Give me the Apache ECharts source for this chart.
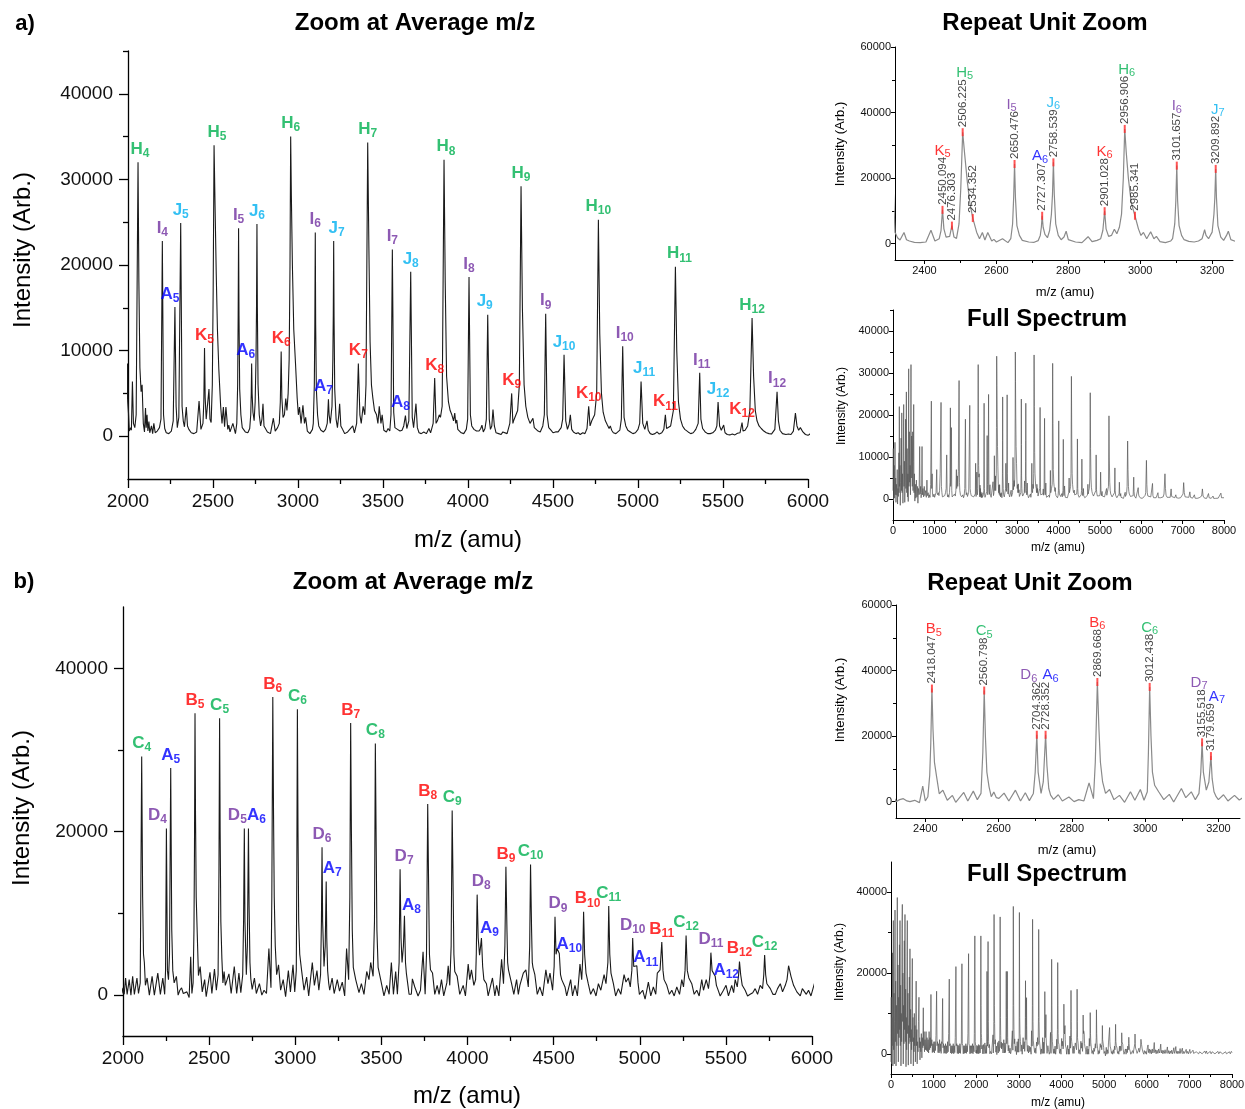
<!DOCTYPE html>
<html>
<head>
<meta charset="utf-8">
<script src="https://cdn.jsdelivr.net/npm/echarts@6/dist/echarts.min.js"></script>
<style>
  html, body { margin: 0; padding: 0; background: #fff; }
  #chart { width: 1245px; height: 1109px; }
</style>
</head>
<body>
<div id="chart"></div>
<script>
// ---------------- Sample a ----------------
// Spectrum trace vertices [m/z, intensity] between the labelled peak apexes
const spectrumA_low = [
  [0, 2000], [8, 12000], [14, -500], [22, 3000], [30, 8000], [38, 200], [48, 13500], [56, 1000], [64, 5000], [72, -800],
  [82, 3500], [92, 900], [102, 7000], [110, -1200], [120, 2500], [130, 600], [142, 11000], [148, 1500], [153, 22000], [160, 3000],
  [168, 8000], [176, -1500], [186, 4000], [196, 14500], [204, 2000], [212, 20500], [220, 1500], [230, 6000], [240, -1000], [250, 10000],
  [258, 22500], [266, 3000], [276, 9000], [284, -800], [294, 4000], [304, 19000], [312, 2500], [323, 25500], [332, 1500], [342, 12000],
  [350, 500], [360, 6000], [368, -600], [379, 31000], [386, 3000], [396, 16000], [404, 4000], [414, 8000], [422, 1000], [435, 32000],
  [442, 5000], [450, 15000], [458, 12000], [466, 3000], [476, 16000], [484, 2000], [492, 9000], [500, 22500], [508, 1500], [518, 6000],
  [528, -500], [540, 3500], [552, 200], [565, 4500], [578, 500], [590, 3000], [602, -1000], [615, 2500], [630, 1000], [645, 12500],
  [655, 1200], [668, 3000], [680, 300], [690, 1500], [702, 12500], [712, 1000], [725, 2500], [740, 500], [755, 3000], [770, 800],
  [790, 2000], [805, 400], [820, 4500], [832, 800], [850, 1500], [865, 300], [880, 1000], [895, 400], [910, 3500], [927, 23300],
  [936, 2500], [946, 6000], [955, 1000], [970, 500], [990, 1200], [1005, 400], [1020, 700], [1040, 1500], [1057, 7000], [1066, 1500],
  [1080, 1000], [1095, 1500], [1110, 800], [1125, 2000], [1140, 6000], [1161, 23000], [1170, 3000], [1182, 1500], [1195, 500], [1210, 800],
  [1230, 400], [1250, 800], [1270, 1500], [1285, 2500], [1298, 10500], [1308, 1500], [1320, 500], [1335, 1000], [1350, 400], [1365, 1500],
  [1378, 4000], [1387, 21700], [1395, 3000], [1400, 5000], [1411, 17000], [1420, 2000], [1430, 500], [1445, 400], [1460, 900], [1475, 300],
  [1490, 1200], [1505, 700], [1520, 2000], [1532, 7000], [1540, 2500], [1555, 5500], [1565, 3000], [1580, 6500], [1597, 28200], [1606, 4000],
  [1615, 2000], [1630, 1000], [1645, 800], [1660, 500], [1675, 400], [1690, 1000], [1705, 300], [1720, 800], [1735, 2500], [1750, 19000],
  [1760, 2500], [1770, 1000], [1785, 1500], [1800, 600], [1815, 1000], [1830, 1600], [1842, 1500], [1855, 22300], [1864, 2500], [1875, 1500],
  [1890, 800], [1905, 500], [1920, 700], [1935, 600], [1950, 500], [1965, 900], [1980, 600], [1990, 1200], [1997, 8500]
];
const spectrumA_mid = [
  [2000, 4000], [2008, 600], [2016, 1000], [2020, 700], [2026, 6400], [2032, 1500], [2040, 1000], [2048, 2500],
  [2064, 18000], [2070, 8000], [2077, 5200], [2083, 6000], [2090, 1500], [2097, 500], [2103, 3300], [2107, 1000], [2112, 2500], [2117, 600],
  [2123, 1700], [2128, 400], [2138, 1200], [2145, 300], [2152, 1500], [2160, 400], [2172, 600], [2185, 1000], [2194, 2000],
  [2209, 2500], [2216, 900], [2225, 400], [2240, 300], [2255, 600], [2266, 1800],
  [2283, 3500], [2290, 1000], [2299, 2200],
  [2318, 3500], [2325, 1800], [2332, 1100], [2343, 3400], [2350, 1200], [2358, 800], [2372, 400], [2388, 300], [2404, 500], [2418, 4100],
  [2429, 800], [2441, 1500], [2446, 4000], [2454, 4500], [2460, 2000], [2470, 2200], [2482, 2000], [2489, 1600],
  [2496, 6000], [2501, 17000], [2512, 27000], [2519, 19000], [2526, 12500],
  [2545, 3500], [2553, 1500], [2561, 3400], [2568, 1100], [2576, 3400], [2587, 800], [2593, 1300], [2600, 500], [2617, 1500], [2632, 300],
  [2640, 1500], [2645, 6000], [2648, 14000], [2653, 14000], [2657, 5500], [2664, 2500], [2672, 1000], [2690, 500], [2705, 400], [2716, 900],
  [2722, 2500], [2725, 5000], [2730, 5000], [2735, 2800], [2742, 1800], [2748, 4000], [2753, 9000], [2756, 15000],
  [2761, 15000], [2765, 6000], [2772, 2500], [2780, 1200], [2788, 2000], [2794, 3800], [2800, 1200], [2820, 500], [2838, 300], [2855, 2100],
  [2866, 600], [2880, 1000], [2890, 1500], [2896, 4000], [2905, 4500], [2912, 2200], [2920, 2500], [2928, 4400], [2935, 3000], [2942, 5000],
  [2948, 9000], [2953, 20000], [2961, 28000], [2967, 20000], [2975, 12500],
  [2995, 4500], [3002, 2500], [3009, 3400], [3018, 1500], [3029, 3600], [3038, 1500], [3045, 2200], [3055, 600], [3070, 300], [3085, 800],
  [3090, 1500], [3096, 6000], [3099, 13000], [3104, 13000], [3108, 5500], [3115, 2500], [3122, 1200], [3135, 700], [3150, 500], [3162, 800],
  [3172, 1500], [3176, 3000], [3183, 2500], [3190, 1500], [3200, 3500], [3205, 9000], [3207.5, 14000],
  [3212, 14000], [3216, 5500], [3224, 2000], [3232, 1000], [3240, 2500], [3245, 3800], [3252, 1200], [3262, 800], [3275, 300], [3292, 500],
  [3302, 300], [3322, 1200], [3332, 400], [3345, 1500],
  [3364, 2500], [3372, 1500], [3383, 3500], [3393, 2500], [3400, 6000],
  [3417, 22000], [3424, 11000], [3432, 6000], [3440, 4500], [3450, 3000], [3462, 2500], [3470, 1500], [3478, 3500], [3488, 1500], [3495, 2500],
  [3505, 700], [3520, 500], [3530, 900], [3540, 600], [3547, 2500],
  [3563, 2800], [3570, 1000], [3585, 800], [3600, 600], [3612, 700], [3622, 1200],
  [3640, 900], [3652, 1800],
  [3672, 2200], [3680, 1000], [3694, 3800], [3702, 1000], [3712, 400], [3725, 300], [3740, 500], [3755, 300], [3770, 900], [3780, 400], [3795, 1500],
  [3812, 1500], [3820, 1800], [3831, 2500], [3838, 2200], [3848, 3500],
  [3866, 18000], [3874, 7000], [3885, 4000], [3895, 3000], [3905, 2500], [3915, 1800], [3922, 2700], [3928, 1500], [3934, 1900], [3940, 800],
  [3950, 1000], [3960, 400], [3975, 300], [3990, 800], [3998, 2000],
  [4014, 2500], [4022, 1200], [4035, 800], [4050, 600], [4065, 600], [4075, 900], [4082, 1300], [4090, 500], [4100, 900], [4108, 2000],
  [4125, 2000], [4132, 800], [4140, 1200], [4147, 3100], [4155, 1200], [4165, 400], [4180, 300], [4195, 200], [4205, 500], [4215, 300],
  [4230, 300], [4246, 1500],
  [4264, 1500], [4270, 1900], [4280, 2000], [4292, 3000], [4302, 6000],
  [4320, 15000], [4330, 6000], [4340, 3500], [4352, 2200], [4365, 1500], [4375, 1700], [4382, 2100], [4390, 1000], [4400, 900], [4412, 600],
  [4425, 500], [4440, 1200], [4449, 2500],
  [4465, 2500], [4475, 1000], [4488, 700], [4500, 400], [4515, 500], [4530, 500], [4548, 1000], [4557, 2000],
  [4575, 1800], [4585, 800], [4595, 1400], [4602, 2500], [4610, 800], [4620, 500], [4635, 300], [4648, 400], [4660, 200], [4675, 400],
  [4688, 300], [4700, 900],
  [4718, 1200], [4728, 1800], [4745, 2500], [4757, 5000],
  [4775, 12000], [4785, 5000], [4795, 2800], [4808, 1800], [4820, 1300], [4830, 900], [4837, 1200], [4845, 700], [4855, 400], [4870, 300],
  [4880, 500], [4893, 700], [4902, 2000],
  [4918, 2200], [4928, 1200], [4940, 700], [4955, 500], [4970, 300], [4985, 400], [5000, 800], [5010, 1500],
  [5028, 1500], [5040, 800], [5053, 1800], [5060, 700], [5072, 300], [5085, 200], [5100, 300], [5112, 500], [5125, 250], [5140, 400], [5152, 800],
  [5168, 900], [5178, 700], [5192, 1200], [5208, 3000],
  [5228, 10000], [5238, 4000], [5250, 2000], [5262, 1200], [5275, 800], [5285, 700], [5295, 500], [5310, 300], [5325, 400], [5340, 800], [5354, 1500],
  [5370, 2000], [5380, 900], [5395, 500], [5410, 300], [5425, 300], [5440, 400], [5455, 700], [5464, 1200],
  [5480, 1200], [5490, 700], [5504, 1300], [5512, 400], [5525, 200], [5540, 150], [5555, 250], [5570, 150], [5585, 350], [5600, 400],
  [5618, 600], [5630, 700], [5645, 1200], [5658, 3000],
  [5680, 7000], [5690, 3000], [5700, 1800], [5712, 1200], [5725, 900], [5740, 600], [5755, 400], [5770, 300], [5785, 250], [5805, 800],
  [5826, 1800], [5835, 700], [5850, 300], [5870, 200], [5885, 250], [5900, 200], [5914, 600], [5926, 2700], [5935, 1200], [5945, 700],
  [5955, 1000], [5961, 900], [5970, 500], [5985, 200], [6000, 100]
];
const spectrumA_high = [
  [6015, 300], [6035, 200], [6060, 600], [6075, 300], [6095, 900], [6108, 1500], [6125, 9200], [6135, 3500], [6145, 1500], [6160, 700],
  [6180, 400], [6200, 300], [6230, 500], [6255, 600], [6272, 3700], [6282, 800], [6300, 300], [6330, 200], [6360, 300], [6385, 400],
  [6404, 1500], [6415, 300], [6440, 200], [6470, 300], [6500, 200], [6530, 500], [6550, 1200], [6573, 6000], [6585, 2500], [6600, 900],
  [6625, 400], [6660, 300], [6700, 400], [6722, 2400], [6735, 600], [6770, 200], [6810, 300], [6835, 1000], [6850, 300], [6900, 200],
  [6950, 300], [6990, 400], [7010, 1200], [7025, 3900], [7040, 1500], [7060, 500], [7100, 300], [7150, 400], [7175, 1700], [7190, 400],
  [7240, 200], [7285, 1000], [7300, 200], [7350, 150], [7400, 300], [7440, 400], [7460, 700], [7478, 2400], [7495, 700], [7530, 200],
  [7580, 150], [7625, 1300], [7640, 300], [7690, 150], [7735, 700], [7750, 150], [7800, 150], [7860, 200], [7905, 400], [7925, 1400],
  [7940, 300], [7975, 150], [8000, 300]
];
// Assigned peaks of sample a
const peaksA_name = ['H4', 'I4', 'A5', 'J5', 'K5', 'H5', 'I5', 'A6', 'J6', 'K6', 'H6', 'I6', 'A7', 'J7', 'K7', 'H7', 'I7', 'A8', 'J8',
  'K8', 'H8', 'I8', 'J9', 'K9', 'H9', 'I9', 'J10', 'K10', 'H10', 'I10', 'J11', 'K11', 'H11', 'I11', 'J12', 'K12', 'H12', 'I12'];
const peaksA_mz = [2059, 2202, 2276, 2310, 2450.094, 2506.225, 2650.476, 2727.307, 2758.539, 2901.028, 2956.906, 3101.657, 3179, 3209.892,
  3355, 3410, 3555, 3632, 3663, 3804, 3859, 4006, 4116, 4257, 4312, 4457, 4565, 4710, 4767, 4910, 5018, 5161, 5220, 5363, 5471, 5612, 5671, 5818];
const peaksA_int = [32000, 22800, 15100, 24900, 10300, 34000, 24300, 8500, 24800, 9900, 35000, 23800, 4300, 22800,
  8500, 34300, 21800, 2400, 19200, 6800, 32300, 18600, 14200, 5000, 29200, 14300, 9500, 3500, 25300, 10500, 6400, 2500, 19800, 7400, 4000, 1600, 13800, 5200];
// Picked peaks (m/z readout) in the repeat-unit window of sample a
const pickA_mz = [2450.094, 2476.303, 2506.225, 2534.352, 2650.476, 2727.307, 2758.539, 2901.028, 2956.906, 2985.341, 3101.657, 3209.892];
const pickA_int = [10300, 5500, 34000, 7800, 24300, 8500, 24800, 9900, 35000, 8500, 23800, 22800];
const pickA_name = ['K5', '', 'H5', '', 'I5', 'A6', 'J6', 'K6', 'H6', '', 'I6', 'J7'];

// ---------------- Sample b ----------------
const spectrumB_low = [
  [0, -2000], [6, 14000], [12, -2500], [20, 9000], [28, 2000], [36, 25000], [44, -3000], [55, 33000], [62, 1000], [70, 15000],
  [78, -2500], [86, 8000], [94, 35600], [102, 3000], [110, 18000], [118, -3000], [128, 12000], [138, 2000], [148, 38700], [156, 5000],
  [164, 22000], [172, -2000], [180, 14000], [190, 4000], [198, 27000], [205, 6000], [211, 33000], [218, 2000], [226, 17000], [234, -3000],
  [242, 10000], [250, 3000], [258, 31000], [266, 37000], [272, 8000], [280, 20000], [288, -2500], [296, 12000], [304, 2500], [312, 28000],
  [320, 6000], [328, 34500], [336, 3000], [344, 16000], [352, -3200], [360, 9000], [368, 1000], [376, 24000], [383, 33000], [390, 5000],
  [398, 15000], [406, -2800], [414, 7000], [422, 2500], [430, 19000], [437, 4000], [445, 26000], [452, 3000], [460, 11000], [468, -2500],
  [476, 6000], [484, 1000], [492, 14000], [500, 23600], [508, 3000], [516, 9000], [524, -3000], [532, 4000], [540, 500], [548, 10000],
  [556, 2000], [564, 7000], [572, -2000], [580, 4000], [590, 18000], [598, 2000], [606, 6000], [614, -2500], [624, 3000], [634, 500],
  [644, 8000], [656, 14000], [664, 1500], [672, 4000], [680, -1500], [690, 3000], [700, 500], [712, 5000], [724, -1000], [735, 4000],
  [746, 1500], [758, 11400], [766, 2000], [776, 5500], [786, 500], [798, 3500], [810, 1000], [822, 5500], [834, 800], [846, 4000],
  [858, 500], [870, 3500], [882, 200], [894, 5500], [906, 1000], [918, 4000], [928, 1500], [937, 14700], [946, 2000], [958, 3500],
  [970, 300], [982, 2500], [994, 500], [1006, 3000], [1018, 200], [1030, 3000], [1042, 800], [1055, 4500], [1070, 15500], [1080, 2000],
  [1092, 3000], [1104, 300], [1116, 2500], [1128, 200], [1140, 3500], [1152, 600], [1164, 2500], [1176, 100], [1188, 3000], [1198, 2500],
  [1211, 13700], [1220, 1500], [1232, 2500], [1244, 100], [1256, 2000], [1268, 200], [1280, 2500], [1292, 0], [1304, 2000], [1316, 200],
  [1328, 3000], [1340, 500], [1352, 5000], [1367, 18500], [1376, 2000], [1388, 2500], [1400, 200], [1412, 2000], [1424, 0], [1436, 2000],
  [1448, 200], [1460, 2500], [1472, 0], [1484, 2000], [1496, 300], [1508, 4000], [1523, 21600], [1532, 2000], [1544, 2500], [1556, 100],
  [1568, 2200], [1580, 0], [1592, 2000], [1604, 200], [1616, 2500], [1628, 100], [1640, 2000], [1650, 2500], [1664, 22300], [1673, 2500],
  [1684, 2000], [1696, 0], [1708, 2000], [1720, 100], [1732, 2000], [1744, 200], [1756, 2500], [1768, 100], [1780, 2000], [1792, 500],
  [1805, 5000], [1820, 24800], [1829, 2500], [1840, 2000], [1852, 0], [1864, 2000], [1876, 100], [1888, 2000], [1900, 200], [1912, 2500],
  [1924, 0], [1936, 2000], [1948, 500], [1955, 5000], [1967, 29200], [1976, 3000], [1986, 2000], [1994, 200]
];
const spectrumB_mid = [
  [2000, 900], [2007, 100], [2015, 2100], [2024, 100], [2036, 1900], [2046, 0], [2056, 2300], [2066, 100], [2081, 2100], [2090, 200], [2100, 1500],
  [2114, 12000], [2119, 5000], [2124, 4000], [2130, 1200], [2140, 2100], [2153, 0], [2169, 2300], [2182, 0], [2202, 2700], [2217, 100],
  [2231, 2100], [2242, 100], [2247, 3000], [2258, 3000], [2264, 1900], [2270, 5000], [2283, 8000], [2289, 3000], [2297, 1500], [2310, 2300],
  [2320, 0], [2330, 600], [2340, 900], [2350, 200], [2358, 0], [2371, 400], [2384, -300], [2393, 4700], [2400, 200], [2407, 1500],
  [2412, 8000], [2415, 18000], [2421, 22000], [2425, 12000], [2431, 7500], [2438, 2400], [2448, 3500], [2460, 400], [2474, 1900], [2483, -200],
  [2505, 2800], [2516, 200], [2531, 3200], [2542, 600], [2552, 2500], [2557, 15000], [2564, 20000], [2568, 9000], [2574, 4500], [2580, 1500],
  [2587, 2900], [2594, 1200], [2601, 1000], [2615, 2600], [2628, 200], [2646, 3500], [2660, 200], [2673, 2700], [2684, 300], [2695, 2500],
  [2700, 9000], [2708, 9000], [2716, 2500], [2722, 6000], [2732, 11000], [2737, 4000], [2742, 2000], [2750, 700], [2763, 2100], [2774, 200],
  [2792, 1400], [2806, 0], [2819, 600], [2833, 200], [2847, 5700], [2859, 900], [2864, 12000], [2874, 22000], [2878, 12000], [2884, 6000],
  [2892, 2500], [2903, 3700], [2915, 600], [2930, 1900], [2944, -200], [2960, 3000], [2972, 400], [2987, 3700], [2997, 400], [3006, 3000],
  [3009, 15000], [3016, 20000], [3020, 9000], [3026, 5000], [3037, 3000], [3051, 600], [3066, 2200], [3078, -100], [3099, 4000], [3111, 1200],
  [3126, 3000], [3137, 600], [3147, 2500], [3152, 9000], [3159, 9000], [3167, 3500], [3174, 6000], [3183, 7000], [3188, 3000], [3194, 1500],
  [3200, 600], [3214, 2100], [3226, 200], [3244, 1900], [3257, 500], [3273, 1600], [3287, -100], [3298, 5700], [3310, 1900], [3317, 12000],
  [3326, 20000], [3331, 8000], [3337, 3400], [3351, 1900], [3370, 300], [3384, 1400], [3399, 100], [3415, 2900], [3428, 1900], [3438, 4000],
  [3452, 2300], [3460, 9000], [3470, 18000], [3474, 8000], [3481, 3400], [3496, 1900], [3515, -100], [3531, 1200], [3545, 100], [3558, 4000],
  [3570, 100], [3583, 2900], [3593, 100], [3603, 4000], [3614, 7000], [3620, 4000], [3628, 6000], [3640, 4000], [3645, 2700], [3661, 100],
  [3674, 130], [3680, 2000], [3694, 1000], [3713, -100], [3727, 600], [3742, 5300], [3754, 100], [3762, 5000], [3775, 12000], [3779, 5000],
  [3785, 3100], [3797, 2700], [3810, 100], [3824, 1200], [3835, 100], [3849, 1900], [3862, -100], [3880, 1500], [3888, 3600], [3897, 1200],
  [3905, 6000], [3917, 12000], [3921, 5000], [3926, 2900], [3940, 2300], [3955, 100], [3975, 1200], [3988, -100], [4004, 3800], [4013, 1900],
  [4023, 3100], [4037, 1200], [4047, 1900], [4051, 5000], [4062, 7000], [4070, 4900], [4076, 6000], [4088, 3500], [4095, 1900], [4110, 1400],
  [4120, -100], [4130, 800], [4145, 2100], [4159, -100], [4169, 1200], [4182, -100], [4198, 4400], [4209, 1400], [4217, 6000], [4229, 8000],
  [4233, 4000], [4238, 3100], [4256, 1400], [4269, 100], [4285, 1900], [4295, 100], [4304, 1200], [4324, 2700], [4339, 3100], [4353, 1000],
  [4361, 6000], [4372, 8000], [4376, 4000], [4380, 3400], [4391, 2500], [4405, 100], [4420, 1000], [4436, -100], [4455, 3100], [4467, 1400],
  [4479, 2700], [4494, 600], [4503, 3500], [4514, 5000], [4520, 5700], [4540, 2500], [4547, 1900], [4566, 1000], [4576, -100], [4599, 1900],
  [4610, -100], [4624, 1200], [4638, -100], [4653, 3800], [4663, 1900], [4669, 4500], [4680, 5000], [4688, 2700], [4701, 1400], [4715, 100],
  [4731, 800], [4746, -100], [4760, 1400], [4774, 600], [4793, 2500], [4804, 1400], [4815, 4000], [4826, 5000], [4833, 2700], [4847, 1400],
  [4860, -100], [4876, 800], [4890, 100], [4909, 2500], [4920, 1600], [4934, 2100], [4945, 1000], [4954, 3000], [4965, 3500], [4971, 3300],
  [4990, 1500], [4998, 100], [5017, 600], [5031, -500], [5050, 1600], [5064, -100], [5079, 1000], [5093, 100], [5102, 2700], [5112, 2500],
  [5118, 3100], [5135, 3000], [5141, 1900], [5157, 1200], [5172, 100], [5186, 600], [5200, -100], [5215, 1000], [5231, 100], [5244, 1900],
  [5254, 1000], [5263, 3000], [5276, 3000], [5285, 2100], [5302, 1400], [5316, 100], [5331, 600], [5345, -100], [5360, 1900], [5370, 600],
  [5386, 1900], [5399, 800], [5408, 2500], [5420, 3000], [5427, 2900], [5445, 1200], [5452, 800], [5467, -100], [5486, 600], [5501, 1200],
  [5515, -100], [5534, 1200], [5545, 300], [5554, 1900], [5566, 1000], [5574, 2500], [5586, 2500], [5595, 1200], [5612, 600], [5626, -100],
  [5641, 100], [5656, 300], [5670, 800], [5684, 100], [5699, 1200], [5713, 800], [5720, 2500], [5731, 2500], [5738, 1400], [5758, 800],
  [5773, 100], [5787, 100], [5800, 800], [5816, 1400], [5829, 400], [5845, 1200], [5855, 1900], [5864, 3600], [5878, 2300], [5893, 1200],
  [5912, 400], [5932, -100], [5944, 800], [5955, 1000], [5967, 100], [5980, 600], [5994, -100]
];
const spectrumB_high = [
  [6000, 100], [6015, 1500], [6030, 2200], [6042, 300], [6060, 1200], [6075, 100], [6095, 1000], [6110, 0], [6130, 1200], [6145, 200],
  [6160, 1000], [6176, 2800], [6188, 300], [6205, 1000], [6220, 0], [6240, 900], [6260, 100], [6280, 1200], [6295, 200], [6310, 700],
  [6328, 2400], [6340, 200], [6360, 900], [6378, 0], [6395, 800], [6412, 100], [6430, 1000], [6448, 100], [6465, 600], [6484, 1700],
  [6496, 100], [6515, 800], [6532, 0], [6550, 700], [6568, 100], [6585, 900], [6602, 0], [6620, 700], [6635, 1500], [6648, 100],
  [6665, 700], [6682, 1800], [6694, 100], [6712, 700], [6730, 0], [6748, 600], [6765, 100], [6782, 1300], [6798, 100], [6815, 500],
  [6835, 1400], [6848, 0], [6868, 600], [6885, 100], [6905, 500], [6925, 1100], [6940, 100], [6960, 600], [6978, 0], [6995, 500],
  [7010, 1100], [7025, 100], [7045, 500], [7065, 0], [7085, 900], [7100, 100], [7120, 500], [7140, 0], [7160, 500], [7180, 100],
  [7203, 900], [7218, 0], [7240, 500], [7260, 100], [7280, 700], [7300, 0], [7320, 400], [7340, 100], [7360, 700], [7380, 100],
  [7400, 700], [7420, 0], [7445, 400], [7465, 0], [7490, 600], [7510, 0], [7535, 500], [7555, 100], [7580, 600], [7600, 0],
  [7625, 400], [7645, 100], [7670, 600], [7690, 0], [7715, 500], [7735, 100], [7760, 500], [7780, 0], [7805, 400], [7825, 100],
  [7850, 500], [7870, 0], [7895, 400], [7915, 100], [7940, 500], [7960, 0], [7985, 600], [8000, 300]
];
const peaksB_name = ['C4', 'D4', 'A5', 'B5', 'C5', 'D5', 'A6', 'B6', 'C6', 'D6', 'A7', 'B7', 'C8', 'D7', 'A8', 'B8', 'C9', 'D8', 'A9',
  'B9', 'C10', 'D9', 'A10', 'B10', 'C11', 'D10', 'A11', 'B11', 'C12', 'D11', 'A12', 'B12', 'C12'];
const peaksB_mz = [2108.5, 2252, 2277, 2418.047, 2560.798, 2704.362, 2728.352, 2869.668, 3012.438, 3155.518, 3179.659, 3321.7, 3465, 3608.6, 3634,
  3769, 3911, 4056, 4081, 4223, 4366, 4508, 4533, 4674, 4820, 4959, 4983, 5128, 5269, 5413, 5438, 5579, 5725];
const peaksB_int = [29200, 20400, 27800, 34500, 33900, 20400, 20400, 36500, 35000, 18100, 13900, 33300, 30800, 15400, 9700,
  23400, 22600, 12300, 7000, 15700, 16000, 9600, 5100, 10200, 10900, 7000, 3600, 6500, 7300, 5200, 2300, 4100, 4900];
const pickB_mz = [2418.047, 2560.798, 2704.362, 2728.352, 2869.668, 3012.438, 3155.518, 3179.659];
const pickB_int = [34500, 33900, 20400, 20400, 36500, 35000, 18100, 13900];
const pickB_name = ['B5', 'C5', 'D6', 'A6', 'B6', 'C6', 'D7', 'A7'];

// Axis tick values
const mainXMajor = [2000, 2500, 3000, 3500, 4000, 4500, 5000, 5500, 6000];
const mainXMinor = [2250, 2750, 3250, 3750, 4250, 4750, 5250, 5750];
const mainAYMajor = [0, 10000, 20000, 30000, 40000];
const mainAYMinor = [5000, 15000, 25000, 35000, 45000];
const mainBYMajor = [0, 20000, 40000];
const mainBYMinor = [10000, 30000];
const zoomXMajor = [2400, 2600, 2800, 3000, 3200];
const zoomXMinor = [2500, 2700, 2900, 3100];
const zoomYMajor = [0, 20000, 40000, 60000];
const zoomYMinor = [10000, 30000, 50000];
const fullXMajor = [0, 1000, 2000, 3000, 4000, 5000, 6000, 7000, 8000];
const fullXMinor = [500, 1500, 2500, 3500, 4500, 5500, 6500, 7500];
const fullAYMajor = [0, 10000, 20000, 30000, 40000];
const fullAYMinor = [5000, 15000, 25000, 35000, 45000];
const fullBYMajor = [0, 20000, 40000];
const fullBYMinor = [10000, 30000];

// ---------------- Building the chart ----------------
const FONT = '"Liberation Sans", Arial, Helvetica, sans-serif';
const SERIES_COLOR = { H: '#00b050', C: '#00b050', I: '#7030a0', D: '#7030a0', J: '#00b0f0', K: '#ff0000', B: '#ff0000', A: '#0000ff' };

const zip = (a, b) => a.map((v, i) => [v, b[i]]);
function buildTrace(parts) {
  const m = new Map();
  parts.forEach(part => part.forEach(([x, y]) => m.set(x, y)));
  return [...m.entries()].sort((p, q) => p[0] - q[0]);
}
const traceA = buildTrace([spectrumA_low, spectrumA_mid, spectrumA_high, zip(peaksA_mz, peaksA_int), zip(pickA_mz, pickA_int)]);
const traceB = buildTrace([spectrumB_low, spectrumB_mid, spectrumB_high, zip(peaksB_mz, peaksB_int), zip(pickB_mz, pickB_int)]);

const grids = [], xAxes = [], yAxes = [], series = [];

function axis(gi, pos, s, major) {
  const lineStyle = { color: '#000', width: s.lw };
  return {
    type: 'value', gridIndex: gi, position: pos, min: s.min, max: s.max, offset: 0,
    splitLine: { show: false }, minorTick: { show: false },
    axisLine: { show: major, onZero: false, lineStyle },
    axisTick: { show: true, inside: false, length: major ? s.tl : s.tm, customValues: major ? s.major : s.minor, lineStyle },
    axisLabel: major
      ? { show: true, customValues: s.major, formatter: v => String(v), fontSize: s.fs, color: '#111', fontFamily: FONT, margin: s.margin }
      : { show: false }
  };
}
function addPanel(box, xs, ys) {
  const gi = grids.length;
  grids.push({ left: box[0], top: box[1], width: box[2], height: box[3], outerBoundsMode: 'none', containLabel: false });
  const xi = xAxes.length, yi = yAxes.length;
  xAxes.push(axis(gi, 'bottom', xs, true), axis(gi, 'bottom', xs, false));
  yAxes.push(axis(gi, 'left', ys, true), axis(gi, 'left', ys, false));
  return { xi, yi };
}
function lineSeries(p, data, color, width) {
  series.push({
    type: 'line', xAxisIndex: p.xi, yAxisIndex: p.yi, data, symbol: 'none', showSymbol: false,
    lineStyle: { color, width }, silent: true, animation: false, clip: true, z: 2
  });
}
function rich(size, sub, weight) {
  const r = {};
  Object.keys(SERIES_COLOR).forEach(k => {
    const c = SERIES_COLOR[k];
    r['L' + k] = { color: c, fontSize: size, fontWeight: weight, fontFamily: FONT, lineHeight: size, padding: [0, 0, Math.round(size * 0.22), 0] };
    r['S' + k] = { color: c, fontSize: sub, fontWeight: weight, fontFamily: FONT, lineHeight: sub, verticalAlign: 'bottom' };
  });
  return r;
}
const peakText = n => `{L${n[0]}|${n[0]}}{S${n[0]}|${n.slice(1)}}`;
function peakLabels(p, names, mz, ints, size, sub, weight, dist, nudge) {
  const data = [];
  names.forEach((n, i) => {
    if (!n) return;
    data.push({ value: [mz[i], ints[i]], name: n, label: { offset: nudge[n] || [0, 0] } });
  });
  series.push({
    type: 'scatter', xAxisIndex: p.xi, yAxisIndex: p.yi, data, symbolSize: 1, itemStyle: { color: 'rgba(0,0,0,0)' },
    silent: true, animation: false, z: 6,
    label: { show: true, position: 'top', distance: dist, formatter: d => peakText(d.name), rich: rich(size, sub, weight) }
  });
}
function pickMarks(p, mz, ints) {
  series.push({
    type: 'scatter', xAxisIndex: p.xi, yAxisIndex: p.yi, data: zip(mz, ints), symbol: 'rect', symbolSize: [2, 8],
    itemStyle: { color: '#ff2b2b' }, silent: true, animation: false, z: 5,
    label: {
      show: true, position: 'top', distance: 1, rotate: 90, align: 'left', verticalAlign: 'middle',
      formatter: d => d.value[0].toFixed(3), fontSize: 11.5, color: '#111', fontFamily: FONT
    }
  });
}

// Axis specs
const mainXSpec = { min: 2000, max: 6000, major: mainXMajor, minor: mainXMinor, tl: 9, tm: 5, fs: 19, margin: 13, lw: 1.3 };
const mainAYSpec = { min: -5000, max: 45000, major: mainAYMajor, minor: mainAYMinor, tl: 9, tm: 5, fs: 19, margin: 15, lw: 1.3 };
const mainBYSpec = { min: -5000, max: 47500, major: mainBYMajor, minor: mainBYMinor, tl: 9, tm: 5, fs: 19, margin: 15, lw: 1.3 };
const zoomYSpec = { min: -5000, max: 60000, major: zoomYMajor, minor: zoomYMinor, tl: 4, tm: 3, fs: 11, margin: 4, lw: 1 };
const zoomAXSpec = { min: 2318, max: 3258, major: zoomXMajor, minor: zoomXMinor, tl: 4, tm: 3, fs: 11, margin: 5, lw: 1 };
const zoomBXSpec = { min: 2320, max: 3259, major: zoomXMajor, minor: zoomXMinor, tl: 4, tm: 3, fs: 11, margin: 5, lw: 1 };
const fullXSpec = { min: 0, max: 8000, major: fullXMajor, minor: fullXMinor, tl: 4, tm: 3, fs: 11, margin: 5, lw: 1 };
const fullAYSpec = { min: -5000, max: 45000, major: fullAYMajor, minor: fullAYMinor, tl: 4, tm: 3, fs: 11, margin: 4, lw: 1 };
const fullBYSpec = { min: -5000, max: 47500, major: fullBYMajor, minor: fullBYMinor, tl: 4, tm: 3, fs: 11, margin: 4, lw: 1 };

// Panel a: main zoom, repeat-unit zoom, full spectrum
const pA = addPanel([128, 51, 680, 428], mainXSpec, mainAYSpec);
lineSeries(pA, traceA, '#1a1a1a', 1.1);
peakLabels(pA, peaksA_name, peaksA_mz, peaksA_int, 17, 12, 'bold', 2,
  { A5: [-5, 0], A6: [-6, 0], A7: [-5, 0], A8: [-5, 0], H4: [2, 0], H5: [3, 0], H8: [2, 0], H11: [4, 0], J7: [3, 0], J9: [-3, 0], J11: [3, 0], I10: [2, 0], I11: [2, 0] });

const pAz = addPanel([895, 47, 338, 213], zoomAXSpec, zoomYSpec);
lineSeries(pAz, traceA, '#8a8a8a', 1.2);
pickMarks(pAz, pickA_mz, pickA_int);
peakLabels(pAz, pickA_name, pickA_mz, pickA_int, 15, 11, 'normal', 50,
  { I5: [-3, 0], A6: [-2, 0], H5: [2, 0], H6: [2, 0], J7: [2, 0] });

const pAf = addPanel([893, 310, 331, 210], fullXSpec, fullAYSpec);
lineSeries(pAf, traceA, '#555', 0.7);

// Panel b
const pB = addPanel([123, 607, 689, 429], mainXSpec, mainBYSpec);
lineSeries(pB, traceB, '#1a1a1a', 1.1);
peakLabels(pB, peaksB_name, peaksB_mz, peaksB_int, 17, 12, 'bold', 2,
  { D4: [-9, 0], D5: [-7, 0], A6: [8, 0], A7: [6, 0], A8: [7, 2], A9: [8, 3], A10: [10, 4], A11: [9, 5], A12: [11, 7], D7: [4, 0], D8: [4, 0], D9: [3, 0], B10: [4, 0] });

const pBz = addPanel([896, 605, 344, 213], zoomBXSpec, zoomYSpec);
lineSeries(pBz, traceB, '#8a8a8a', 1.2);
pickMarks(pBz, pickB_mz, pickB_int);
peakLabels(pBz, pickB_name, pickB_mz, pickB_int, 15, 11, 'normal', 50,
  { D6: [-8, 0], A6: [5, 0], D7: [-3, 0], A7: [6, 0], B5: [2, 0] });

const pBf = addPanel([891, 862, 341, 212], fullXSpec, fullBYSpec);
lineSeries(pBf, traceB, '#555', 0.7);

// Titles and axis names
function txt(text, x, y, size, bold, rot) {
  return {
    type: 'text', x, y, rotation: rot ? Math.PI / 2 : 0, silent: true,
    style: { text, font: `${bold ? 'bold ' : ''}${size}px ${FONT}`, fill: '#000', align: 'center', verticalAlign: 'middle' }
  };
}
const graphic = [
  txt('a)', 25, 24, 22, true),
  txt('Zoom at Average m/z', 415, 23, 24, true),
  txt('Intensity (Arb.)', 23, 250, 24, false, true),
  txt('m/z (amu)', 468, 540, 24, false),
  txt('Repeat Unit Zoom', 1045, 23, 24, true),
  txt('Intensity (Arb.)', 840, 144, 13, false, true),
  txt('m/z (amu)', 1065, 292, 13, false),
  txt('Full Spectrum', 1047, 319, 24, true),
  txt('Intensity (Arb.)', 842, 406, 12, false, true),
  txt('m/z (amu)', 1058, 548, 12, false),
  txt('b)', 24, 582, 22, true),
  txt('Zoom at Average m/z', 413, 582, 24, true),
  txt('Intensity (Arb.)', 22, 808, 24, false, true),
  txt('m/z (amu)', 467, 1096, 24, false),
  txt('Repeat Unit Zoom', 1030, 583, 24, true),
  txt('Intensity (Arb.)', 840, 700, 13, false, true),
  txt('m/z (amu)', 1067, 850, 13, false),
  txt('Full Spectrum', 1047, 874, 24, true),
  txt('Intensity (Arb.)', 840, 962, 12, false, true),
  txt('m/z (amu)', 1058, 1103, 12, false)
];

const chart = echarts.init(document.getElementById('chart'), null, { renderer: 'canvas' });
chart.setOption({
  backgroundColor: '#fff',
  animation: false,
  grid: grids,
  xAxis: xAxes,
  yAxis: yAxes,
  series,
  graphic
});
</script>
</body>
</html>
